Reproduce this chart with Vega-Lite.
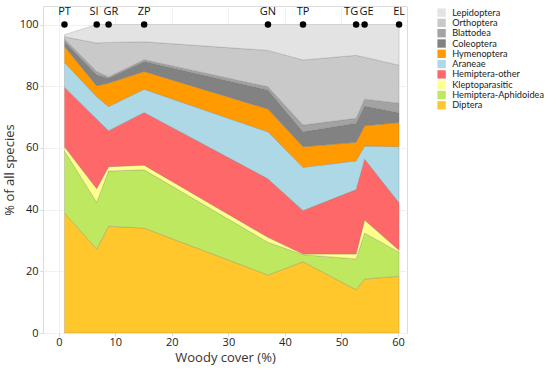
{
  "$schema": "https://vega.github.io/schema/vega-lite/v6.json",
  "width": 364,
  "height": 327,
  "autosize": "none",
  "padding": {"left": 43, "top": 6, "right": 143, "bottom": 37},
  "background": "white",
  "config": {
    "font": "Open Sans",
    "view": {"stroke": "#dcdcdc", "strokeWidth": 1},
    "axis": {
      "labelFontSize": 11,
      "labelColor": "#222",
      "titleFontSize": 13,
      "titleFontWeight": "normal",
      "titleColor": "#333",
      "domain": false,
      "tickColor": "#d8d8d8",
      "tickSize": 3,
      "gridColor": "#f1f1f1"
    },
    "legend": {"labelFontSize": 10, "labelColor": "#222"}
  },
  "datasets": {
    "sp": [
      {"x": 1, "site": "PT", "group": "Diptera", "pct": 38.9},
      {"x": 1, "site": "PT", "group": "Hemiptera-Aphidoidea", "pct": 20.1},
      {"x": 1, "site": "PT", "group": "Kleptoparasitic", "pct": 1.4},
      {"x": 1, "site": "PT", "group": "Hemiptera-other", "pct": 19.3},
      {"x": 1, "site": "PT", "group": "Araneae", "pct": 8.0},
      {"x": 1, "site": "PT", "group": "Hymenoptera", "pct": 5.2},
      {"x": 1, "site": "PT", "group": "Coleoptera", "pct": 1.6},
      {"x": 1, "site": "PT", "group": "Blattodea", "pct": 0.8},
      {"x": 1, "site": "PT", "group": "Orthoptera", "pct": 0.7},
      {"x": 1, "site": "PT", "group": "Lepidoptera", "pct": 0.7},
      {"x": 6.7, "site": "SI", "group": "Diptera", "pct": 27.2},
      {"x": 6.7, "site": "SI", "group": "Hemiptera-Aphidoidea", "pct": 15.2},
      {"x": 6.7, "site": "SI", "group": "Kleptoparasitic", "pct": 4.4},
      {"x": 6.7, "site": "SI", "group": "Hemiptera-other", "pct": 22.6},
      {"x": 6.7, "site": "SI", "group": "Araneae", "pct": 7.2},
      {"x": 6.7, "site": "SI", "group": "Hymenoptera", "pct": 3.5},
      {"x": 6.7, "site": "SI", "group": "Coleoptera", "pct": 3.6},
      {"x": 6.7, "site": "SI", "group": "Blattodea", "pct": 1.1},
      {"x": 6.7, "site": "SI", "group": "Orthoptera", "pct": 9.2},
      {"x": 6.7, "site": "SI", "group": "Lepidoptera", "pct": 6.0},
      {"x": 8.8, "site": "GR", "group": "Diptera", "pct": 34.6},
      {"x": 8.8, "site": "GR", "group": "Hemiptera-Aphidoidea", "pct": 17.9},
      {"x": 8.8, "site": "GR", "group": "Kleptoparasitic", "pct": 1.4},
      {"x": 8.8, "site": "GR", "group": "Hemiptera-other", "pct": 11.7},
      {"x": 8.8, "site": "GR", "group": "Araneae", "pct": 7.8},
      {"x": 8.8, "site": "GR", "group": "Hymenoptera", "pct": 7.6},
      {"x": 8.8, "site": "GR", "group": "Coleoptera", "pct": 1.6},
      {"x": 8.8, "site": "GR", "group": "Blattodea", "pct": 0.4},
      {"x": 8.8, "site": "GR", "group": "Orthoptera", "pct": 11.2},
      {"x": 8.8, "site": "GR", "group": "Lepidoptera", "pct": 5.8},
      {"x": 15.1, "site": "ZP", "group": "Diptera", "pct": 34.0},
      {"x": 15.1, "site": "ZP", "group": "Hemiptera-Aphidoidea", "pct": 18.9},
      {"x": 15.1, "site": "ZP", "group": "Kleptoparasitic", "pct": 1.5},
      {"x": 15.1, "site": "ZP", "group": "Hemiptera-other", "pct": 17.1},
      {"x": 15.1, "site": "ZP", "group": "Araneae", "pct": 7.5},
      {"x": 15.1, "site": "ZP", "group": "Hymenoptera", "pct": 5.8},
      {"x": 15.1, "site": "ZP", "group": "Coleoptera", "pct": 3.2},
      {"x": 15.1, "site": "ZP", "group": "Blattodea", "pct": 0.6},
      {"x": 15.1, "site": "ZP", "group": "Orthoptera", "pct": 5.8},
      {"x": 15.1, "site": "ZP", "group": "Lepidoptera", "pct": 5.6},
      {"x": 37, "site": "GN", "group": "Diptera", "pct": 18.8},
      {"x": 37, "site": "GN", "group": "Hemiptera-Aphidoidea", "pct": 10.6},
      {"x": 37, "site": "GN", "group": "Kleptoparasitic", "pct": 1.6},
      {"x": 37, "site": "GN", "group": "Hemiptera-other", "pct": 19.0},
      {"x": 37, "site": "GN", "group": "Araneae", "pct": 15.2},
      {"x": 37, "site": "GN", "group": "Hymenoptera", "pct": 7.4},
      {"x": 37, "site": "GN", "group": "Coleoptera", "pct": 6.2},
      {"x": 37, "site": "GN", "group": "Blattodea", "pct": 1.0},
      {"x": 37, "site": "GN", "group": "Orthoptera", "pct": 11.8},
      {"x": 37, "site": "GN", "group": "Lepidoptera", "pct": 8.4},
      {"x": 43.2, "site": "TP", "group": "Diptera", "pct": 23.1},
      {"x": 43.2, "site": "TP", "group": "Hemiptera-Aphidoidea", "pct": 2.3},
      {"x": 43.2, "site": "TP", "group": "Kleptoparasitic", "pct": 0.2},
      {"x": 43.2, "site": "TP", "group": "Hemiptera-other", "pct": 14.1},
      {"x": 43.2, "site": "TP", "group": "Araneae", "pct": 14.0},
      {"x": 43.2, "site": "TP", "group": "Hymenoptera", "pct": 6.7},
      {"x": 43.2, "site": "TP", "group": "Coleoptera", "pct": 4.8},
      {"x": 43.2, "site": "TP", "group": "Blattodea", "pct": 2.2},
      {"x": 43.2, "site": "TP", "group": "Orthoptera", "pct": 21.1},
      {"x": 43.2, "site": "TP", "group": "Lepidoptera", "pct": 11.5},
      {"x": 52.6, "site": "TG", "group": "Diptera", "pct": 14.0},
      {"x": 52.6, "site": "TG", "group": "Hemiptera-Aphidoidea", "pct": 10.0},
      {"x": 52.6, "site": "TG", "group": "Kleptoparasitic", "pct": 1.6},
      {"x": 52.6, "site": "TG", "group": "Hemiptera-other", "pct": 20.9},
      {"x": 52.6, "site": "TG", "group": "Araneae", "pct": 9.3},
      {"x": 52.6, "site": "TG", "group": "Hymenoptera", "pct": 6.0},
      {"x": 52.6, "site": "TG", "group": "Coleoptera", "pct": 6.2},
      {"x": 52.6, "site": "TG", "group": "Blattodea", "pct": 1.6},
      {"x": 52.6, "site": "TG", "group": "Orthoptera", "pct": 20.4},
      {"x": 52.6, "site": "TG", "group": "Lepidoptera", "pct": 10.0},
      {"x": 54.1, "site": "GE", "group": "Diptera", "pct": 17.5},
      {"x": 54.1, "site": "GE", "group": "Hemiptera-Aphidoidea", "pct": 14.9},
      {"x": 54.1, "site": "GE", "group": "Kleptoparasitic", "pct": 4.2},
      {"x": 54.1, "site": "GE", "group": "Hemiptera-other", "pct": 19.8},
      {"x": 54.1, "site": "GE", "group": "Araneae", "pct": 4.2},
      {"x": 54.1, "site": "GE", "group": "Hymenoptera", "pct": 6.6},
      {"x": 54.1, "site": "GE", "group": "Coleoptera", "pct": 6.4},
      {"x": 54.1, "site": "GE", "group": "Blattodea", "pct": 2.2},
      {"x": 54.1, "site": "GE", "group": "Orthoptera", "pct": 13.6},
      {"x": 54.1, "site": "GE", "group": "Lepidoptera", "pct": 10.6},
      {"x": 60.2, "site": "EL", "group": "Diptera", "pct": 18.4},
      {"x": 60.2, "site": "EL", "group": "Hemiptera-Aphidoidea", "pct": 7.8},
      {"x": 60.2, "site": "EL", "group": "Kleptoparasitic", "pct": 0.6},
      {"x": 60.2, "site": "EL", "group": "Hemiptera-other", "pct": 15.4},
      {"x": 60.2, "site": "EL", "group": "Araneae", "pct": 18.2},
      {"x": 60.2, "site": "EL", "group": "Hymenoptera", "pct": 7.8},
      {"x": 60.2, "site": "EL", "group": "Coleoptera", "pct": 3.2},
      {"x": 60.2, "site": "EL", "group": "Blattodea", "pct": 3.1},
      {"x": 60.2, "site": "EL", "group": "Orthoptera", "pct": 12.3},
      {"x": 60.2, "site": "EL", "group": "Lepidoptera", "pct": 13.2}
    ],
    "sites": [
      {"x": 1, "site": "PT"},
      {"x": 6.7, "site": "SI"},
      {"x": 8.8, "site": "GR"},
      {"x": 15.1, "site": "ZP"},
      {"x": 37, "site": "GN"},
      {"x": 43.2, "site": "TP"},
      {"x": 52.6, "site": "TG"},
      {"x": 54.1, "site": "GE"},
      {"x": 60.2, "site": "EL"}
    ]
  },
  "layer": [
    {
      "data": {"name": "sp"},
      "transform": [
        {"calculate": "indexof(['Diptera','Hemiptera-Aphidoidea','Kleptoparasitic','Hemiptera-other','Araneae','Hymenoptera','Coleoptera','Blattodea','Orthoptera','Lepidoptera'], datum.group)", "as": "k"}
      ],
      "mark": {"type": "area", "stroke": "#666", "strokeWidth": 0.5, "strokeOpacity": 0.45, "opacity": 1},
      "encoding": {
        "x": {
          "field": "x", "type": "quantitative",
          "scale": {"domain": [-2.8, 61.6], "nice": false, "zero": false},
          "axis": {"values": [0, 10, 20, 30, 40, 50, 60], "title": "Woody cover (%)", "grid": true, "labelPadding": 0, "titlePadding": 4}
        },
        "y": {
          "field": "pct", "type": "quantitative", "stack": "zero",
          "scale": {"domain": [0, 106], "nice": false},
          "axis": {"values": [0, 20, 40, 60, 80, 100], "title": "% of all species", "grid": true, "labelPadding": 2, "titleX": -27}
        },
        "color": {
          "field": "group", "type": "nominal",
          "scale": {
            "domain": ["Lepidoptera", "Orthoptera", "Blattodea", "Coleoptera", "Hymenoptera", "Araneae", "Hemiptera-other", "Kleptoparasitic", "Hemiptera-Aphidoidea", "Diptera"],
            "range": ["#e3e3e3", "#c9c9c9", "#a3a3a3", "#828282", "#ff9a00", "#add8e6", "#ff6868", "#ffff8c", "#bde85f", "#ffc72c"]
          },
          "legend": {
            "title": null, "orient": "none", "legendX": 394, "legendY": 2,
            "symbolType": "square", "symbolSize": 70, "symbolStrokeWidth": 0,
            "rowPadding": 0.3, "labelOffset": 6, "labelFont": "Lato", "labelFontSize": 9.2
          }
        },
        "order": {"field": "k", "type": "quantitative"}
      }
    },
    {
      "data": {"name": "sites"},
      "mark": {"type": "point", "filled": true, "color": "black", "size": 42, "opacity": 1},
      "encoding": {
        "x": {"field": "x", "type": "quantitative"},
        "y": {"datum": 100}
      }
    },
    {
      "data": {"name": "sites"},
      "transform": [{"filter": "indexof(['PT','ZP','GN','TP','EL'], datum.site) >= 0"}],
      "mark": {"type": "text", "dy": -13, "fontSize": 11, "color": "#111"},
      "encoding": {
        "x": {"field": "x", "type": "quantitative"},
        "y": {"datum": 100},
        "text": {"field": "site"}
      }
    },
    {
      "data": {"name": "sites"},
      "transform": [{"filter": "datum.site == 'SI' || datum.site == 'TG'"}],
      "mark": {"type": "text", "dy": -13, "dx": 2, "align": "right", "fontSize": 11, "color": "#111"},
      "encoding": {
        "x": {"field": "x", "type": "quantitative"},
        "y": {"datum": 100},
        "text": {"field": "site"}
      }
    },
    {
      "data": {"name": "sites"},
      "transform": [{"filter": "datum.site == 'GR' || datum.site == 'GE'"}],
      "mark": {"type": "text", "dy": -13, "dx": -5, "align": "left", "fontSize": 11, "color": "#111"},
      "encoding": {
        "x": {"field": "x", "type": "quantitative"},
        "y": {"datum": 100},
        "text": {"field": "site"}
      }
    }
  ]
}
